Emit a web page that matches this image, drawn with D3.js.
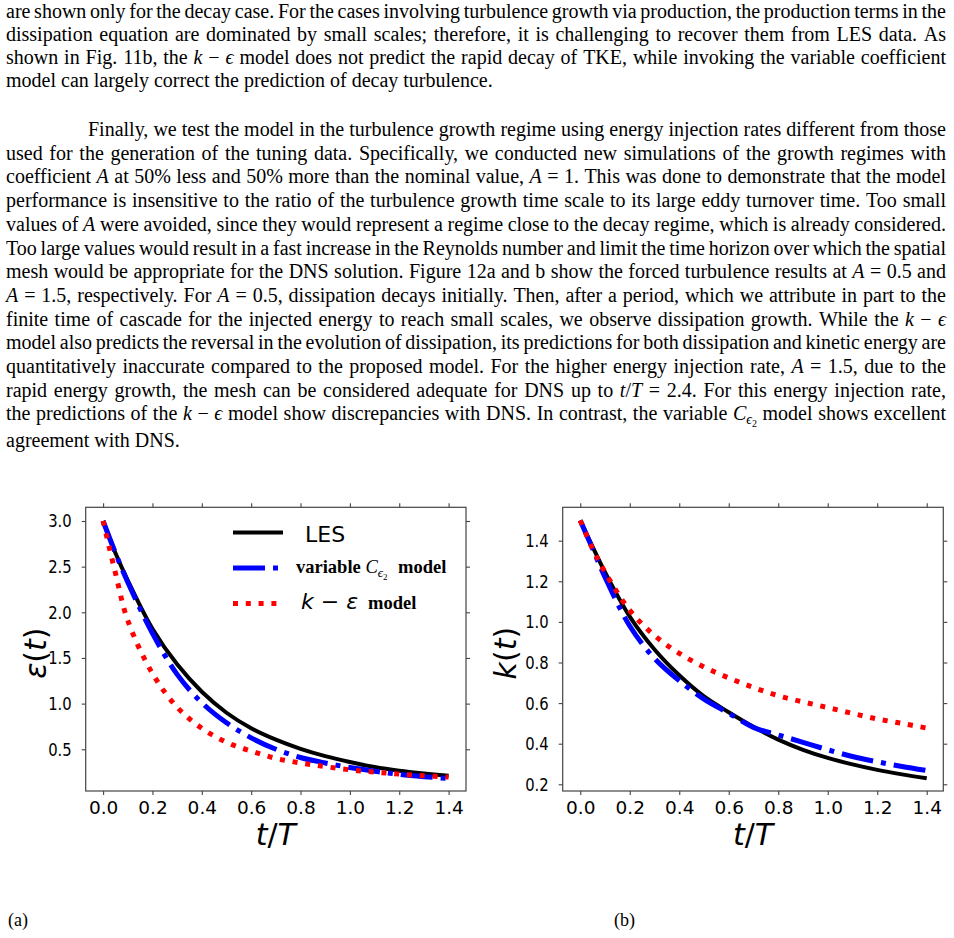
<!DOCTYPE html>
<html>
<head>
<meta charset="utf-8">
<script src="https://cdn.jsdelivr.net/npm/d3@7"></script>
<style>
  body { margin: 0; background: #fff; }
  svg { display: block; }
</style>
</head>
<body>
<svg id="page" width="954" height="938"></svg>
<script>
// ---- chart data ----
const tValues = [0, 0.05, 0.1, 0.2, 0.3, 0.4, 0.5, 0.6, 0.7, 0.8, 0.9, 1.0, 1.1, 1.2, 1.3, 1.4];
const epsLES  = [3.0, 2.65, 2.35, 1.82, 1.43, 1.13, 0.90, 0.73, 0.605, 0.505, 0.425, 0.36, 0.305, 0.265, 0.235, 0.21];
const epsVar  = [3.0, 2.65, 2.33, 1.77, 1.32, 1.01, 0.79, 0.625, 0.50, 0.41, 0.35, 0.30, 0.26, 0.225, 0.20, 0.18];
const epsKE   = [3.0, 2.43, 1.91, 1.33, 0.96, 0.73, 0.577, 0.48, 0.40, 0.35, 0.31, 0.275, 0.25, 0.228, 0.21, 0.195];
const kLES    = [1.5, 1.37, 1.245, 1.026, 0.864, 0.737, 0.633, 0.555, 0.483, 0.42, 0.37, 0.33, 0.298, 0.271, 0.249, 0.23];
const kVar    = [1.5, 1.36, 1.22, 0.98, 0.82, 0.71, 0.62, 0.55, 0.48, 0.443, 0.407, 0.37, 0.337, 0.311, 0.288, 0.268];
const kKE     = [1.5, 1.36, 1.245, 1.057, 0.933, 0.845, 0.778, 0.724, 0.677, 0.636, 0.606, 0.578, 0.549, 0.522, 0.50, 0.477];

const xTicks   = [0, 0.2, 0.4, 0.6, 0.8, 1.0, 1.2, 1.4];
const epsTicks = [0.5, 1.0, 1.5, 2.0, 2.5, 3.0];
const kTicks   = [0.2, 0.4, 0.6, 0.8, 1.0, 1.2, 1.4];
const panelTags = ["(a)", "(b)"];

// ---- page text, one entry per printed line ----
// {i:..} italic, {s:..} subscript, {ss:..} second-level subscript
const para1 = [
  "are shown only for the decay case. For the cases involving turbulence growth via production, the production terms in the",
  "dissipation equation are dominated by small scales; therefore, it is challenging to recover them from LES data. As",
  "shown in Fig. 11b, the {i:k} − {i:ϵ} model does not predict the rapid decay of TKE, while invoking the variable coefficient",
  "model can largely correct the prediction of decay turbulence."
];
const para2 = [
  "Finally, we test the model in the turbulence growth regime using energy injection rates different from those",
  "used for the generation of the tuning data. Specifically, we conducted new simulations of the growth regimes with",
  "coefficient {i:A} at 50% less and 50% more than the nominal value, {i:A} = 1. This was done to demonstrate that the model",
  "performance is insensitive to the ratio of the turbulence growth time scale to its large eddy turnover time. Too small",
  "values of {i:A} were avoided, since they would represent a regime close to the decay regime, which is already considered.",
  "Too large values would result in a fast increase in the Reynolds number and limit the time horizon over which the spatial",
  "mesh would be appropriate for the DNS solution. Figure 12a and b show the forced turbulence results at {i:A} = 0.5 and",
  "{i:A} = 1.5, respectively. For {i:A} = 0.5, dissipation decays initially. Then, after a period, which we attribute in part to the",
  "finite time of cascade for the injected energy to reach small scales, we observe dissipation growth. While the {i:k} − {i:ϵ}",
  "model also predicts the reversal in the evolution of dissipation, its predictions for both dissipation and kinetic energy are",
  "quantitatively inaccurate compared to the proposed model. For the higher energy injection rate, {i:A} = 1.5, due to the",
  "rapid energy growth, the mesh can be considered adequate for DNS up to {i:t}/{i:T} = 2.4. For this energy injection rate,",
  "the predictions of the {i:k} − {i:ϵ} model show discrepancies with DNS. In contrast, the variable {i:C}{s:ϵ}{ss:2} model shows excellent",
  "agreement with DNS."
];

const serif = "'Liberation Serif', 'Times New Roman', serif";
const sans = "'DejaVu Sans', sans-serif";
const svg = d3.select("#page");

// ---------- justified paragraph text ----------
const textSize = 20;

function parseWord(w) {
  const segs = [];
  const re = /\{(i|s|ss):([^}]*)\}/g;
  let last = 0, m;
  while ((m = re.exec(w))) {
    if (m.index > last) segs.push({ t: w.slice(last, m.index), k: "r" });
    segs.push({ t: m[2], k: m[1] });
    last = re.lastIndex;
  }
  if (last < w.length) segs.push({ t: w.slice(last), k: "r" });
  return segs;
}

function addWord(g, w, y) {
  const text = g.append("text")
    .attr("y", y)
    .style("font-family", serif)
    .style("font-size", textSize + "px");
  let shift = 0;
  parseWord(w).forEach(s => {
    const target = s.k === "s" ? 4 : s.k === "ss" ? 7 : 0;
    const ts = text.append("tspan").text(s.t).attr("dy", target - shift);
    shift = target;
    if (s.k === "i") ts.style("font-style", "italic");
    if (s.k === "s") ts.style("font-size", textSize * 0.7 + "px").style("font-style", "italic");
    if (s.k === "ss") ts.style("font-size", textSize * 0.5 + "px");
  });
  return text;
}

function drawLine(line, x0, x1, y, justify) {
  const g = svg.append("g");
  const words = line.split(" ").filter(d => d);
  const nodes = words.map(w => addWord(g, w, y));
  const widths = nodes.map(n => n.node().getComputedTextLength());
  const total = d3.sum(widths);
  const gap = justify ? (x1 - x0 - total) / (words.length - 1) : textSize * 0.25;
  let x = x0;
  nodes.forEach((n, i) => { n.attr("x", x); x += widths[i] + gap; });
}

para1.forEach((line, i) => drawLine(line, 6, 946, 18 + 23 * i, i < para1.length - 1));
para2.forEach((line, i) => {
  const y = 136 + 23.7 * i + (i === para2.length - 1 ? 3 : 0);
  drawLine(line, i === 0 ? 88 : 6, 946, y, i < para2.length - 1);
});

// ---------- panels ----------
const lineStyles = [
  { color: "#000000", width: 4, dash: null },
  { color: "#0000ff", width: 5, dash: "32,8,5,8" },
  { color: "#ff0000", width: 5, dash: "5,7.8" }
];

function mathLabel(sel, parts) {
  parts.forEach(p => {
    sel.append("tspan").text(p[0]).style("font-style", p[1] ? "oblique" : "normal");
  });
}

function drawPanel(cfg) {
  const f = cfg.frame;
  const x = d3.scaleLinear().domain(cfg.xDomain).range([f.left, f.right]);
  const y = d3.scaleLinear().domain(cfg.yDomain).range([f.bottom, f.top]);
  const g = svg.append("g");

  const styleAxis = sel => {
    sel.select(".domain").remove();
    sel.selectAll(".tick line").attr("stroke", "#444").attr("stroke-width", 1.1);
    sel.selectAll(".tick text")
      .attr("fill", "#000")
      .style("font-family", sans)
      .style("font-size", "18.5px");
  };

  g.append("g").attr("transform", `translate(0,${f.bottom})`)
    .call(d3.axisBottom(x).tickValues(xTicks).tickSize(4).tickPadding(6).tickFormat(d3.format(".1f")))
    .call(styleAxis);
  g.append("g").attr("transform", `translate(0,${f.top})`)
    .call(d3.axisTop(x).tickValues(xTicks).tickSize(4).tickFormat(""))
    .call(styleAxis);
  // the y tick labels in the figure are narrower than the x ones
  g.append("g").attr("transform", `translate(${f.left},0)`)
    .call(d3.axisLeft(y).tickValues(cfg.yTicks).tickSize(4).tickPadding(10).tickFormat(d3.format(".1f")))
    .call(styleAxis)
    .call(a => a.selectAll(".tick text").attr("x", 0).attr("transform", "translate(-14,0) scale(0.8,1)"));
  g.append("g").attr("transform", `translate(${f.right},0)`)
    .call(d3.axisRight(y).tickValues(cfg.yTicks).tickSize(4).tickFormat(""))
    .call(styleAxis);

  const line = d3.line()
    .x((d, i) => x(tValues[i]))
    .y(d => y(d))
    .curve(d3.curveCatmullRom.alpha(0.5));

  cfg.series.forEach((vals, i) => {
    const st = lineStyles[i];
    g.append("path")
      .attr("d", line(vals))
      .attr("fill", "none")
      .attr("stroke", st.color)
      .attr("stroke-width", st.width)
      .attr("stroke-dasharray", st.dash);
  });

  g.append("rect")
    .attr("x", f.left).attr("y", f.top)
    .attr("width", f.right - f.left).attr("height", f.bottom - f.top)
    .attr("fill", "none").attr("stroke", "#444").attr("stroke-width", 1.2);

  // axis titles (mathtext style)
  const xl = g.append("text")
    .attr("x", (f.left + f.right) / 2).attr("y", 845)
    .attr("text-anchor", "middle")
    .style("font-family", sans).style("font-size", "30px");
  mathLabel(xl, [["t", true], ["/", false], ["T", true]]);

  const yl = g.append("text")
    .attr("transform", `translate(${cfg.yLabelX},${(f.top + f.bottom) / 2 + 4}) rotate(-90)`)
    .attr("text-anchor", "middle")
    .style("font-family", sans).style("font-size", "30px");
  mathLabel(yl, cfg.yLabel);

  svg.append("text")
    .attr("x", cfg.tagX).attr("y", 926)
    .style("font-family", serif).style("font-size", "18px")
    .text(cfg.tag);

  return g;
}

const left = drawPanel({
  frame: { left: 85.7, right: 466, top: 507.3, bottom: 791 },
  xDomain: [-0.0705, 1.4705],
  yDomain: [0.043, 3.15],
  yTicks: epsTicks,
  series: [epsLES, epsVar, epsKE],
  yLabel: [["ε", true], ["(", false], ["t", true], [")", false]],
  yLabelX: 46,
  tag: panelTags[0], tagX: 8
});

drawPanel({
  frame: { left: 562.7, right: 943.3, top: 507.3, bottom: 791 },
  xDomain: [-0.071, 1.467],
  yDomain: [0.167, 1.5645],
  yTicks: kTicks,
  series: [kLES, kVar, kKE],
  yLabel: [["k", true], ["(", false], ["t", true], [")", false]],
  yLabelX: 516,
  tag: panelTags[1], tagX: 614
});

// ---------- legend (left panel) ----------
const legendRows = [
  { y: 532.5, x1: 283, build: t => t.append("tspan").attr("x", 305).attr("y", 541.5)
      .style("font-family", sans).style("font-size", "22px").text("LES") },
  { y: 568, x1: 280, build: t => {
      t.attr("y", 572.5).style("font-family", serif).style("font-size", "18.5px").style("font-weight", "bold");
      t.append("tspan").attr("x", 296).text("variable ");
      t.append("tspan").style("font-weight", "normal").style("font-style", "italic").text("C");
      t.append("tspan").attr("dy", 4).style("font-weight", "normal").style("font-style", "italic")
        .style("font-size", "13px").text("ϵ");
      t.append("tspan").attr("dy", 3).style("font-weight", "normal").style("font-size", "9px").text("2");
      t.append("tspan").attr("x", 398).attr("dy", -7).text("model");
    } },
  { y: 603.5, x1: 280, build: t => {
      t.attr("y", 608.5);
      t.append("tspan").attr("x", 301).style("font-family", sans).style("font-size", "22px")
        .style("font-style", "oblique").text("k");
      t.append("tspan").style("font-family", sans).style("font-size", "22px").text(" − ");
      t.append("tspan").style("font-family", sans).style("font-size", "22px")
        .style("font-style", "oblique").text("ε");
      t.append("tspan").attr("x", 368).style("font-family", serif).style("font-size", "18.5px")
        .style("font-weight", "bold").text("model");
    } }
];

legendRows.forEach((row, i) => {
  const st = lineStyles[i];
  left.append("line")
    .attr("x1", 233).attr("x2", row.x1).attr("y1", row.y).attr("y2", row.y)
    .attr("stroke", st.color).attr("stroke-width", st.width)
    .attr("stroke-dasharray", st.dash);
  row.build(left.append("text").attr("fill", "#000"));
});
</script>
</body>
</html>
